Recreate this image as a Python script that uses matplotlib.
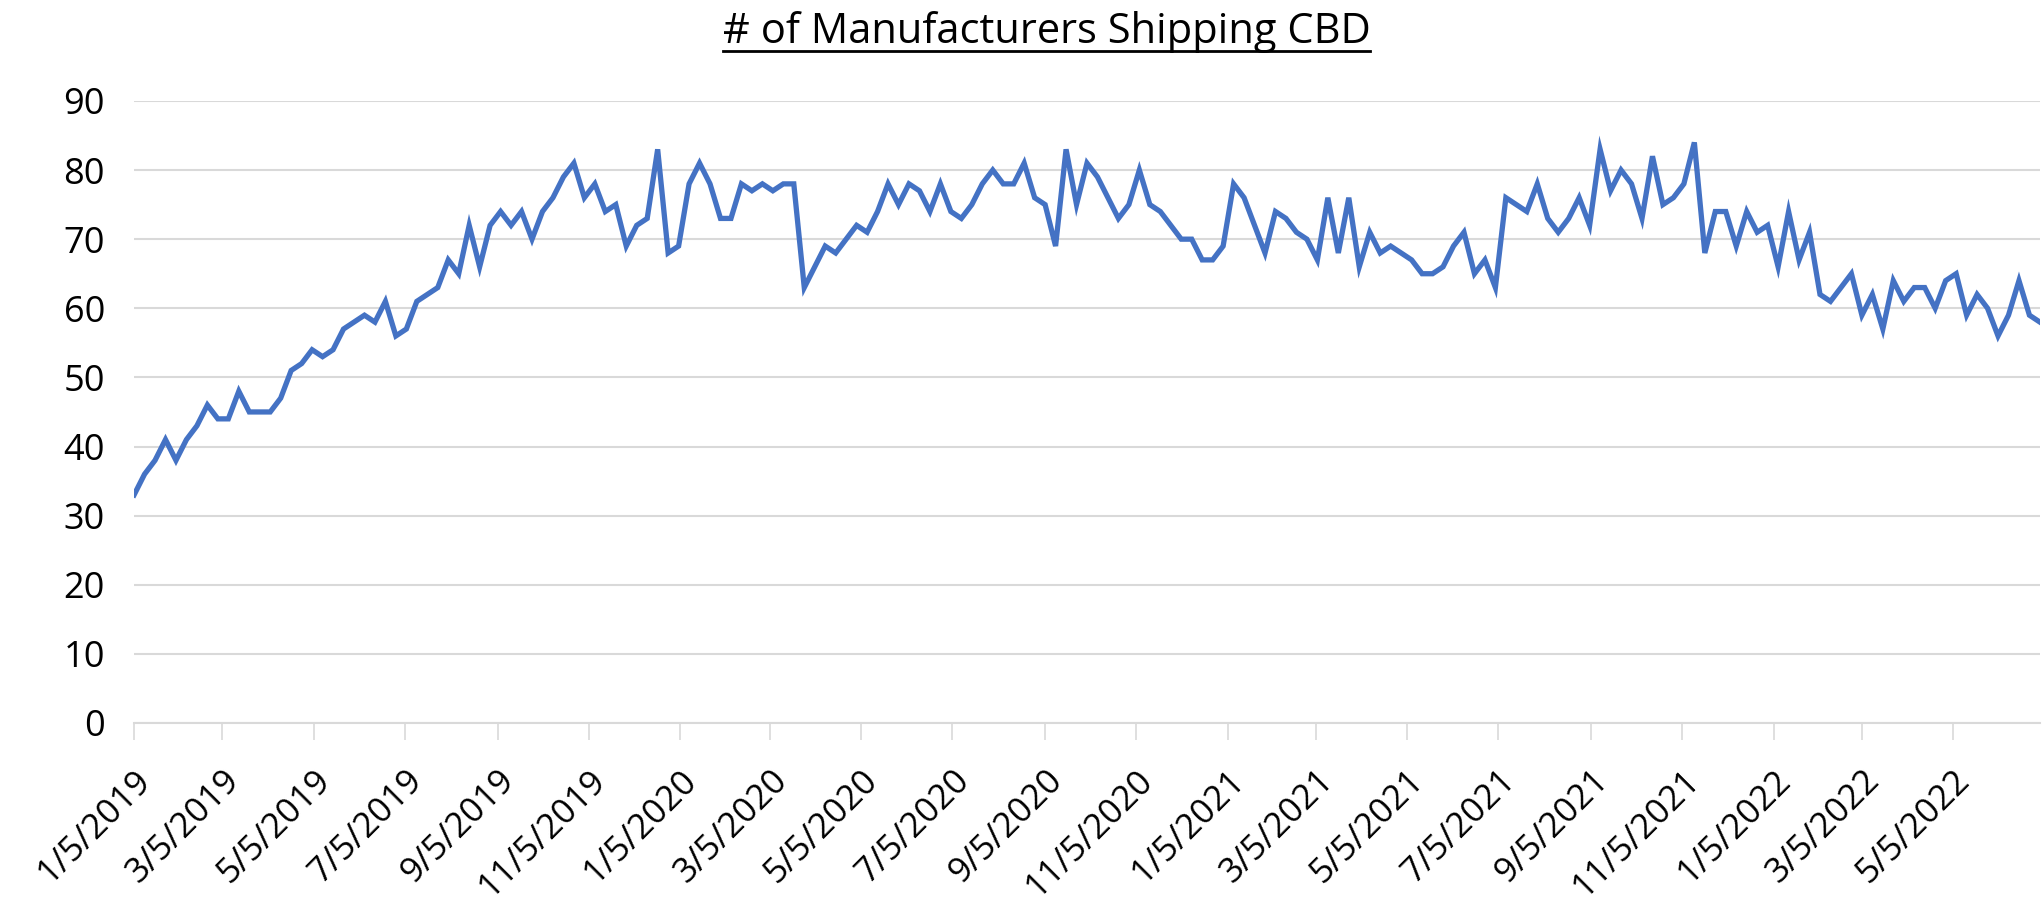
import pandas as pd
import matplotlib
matplotlib.use("Agg")
from matplotlib import pyplot as plt

# weekly count of manufacturers shipping CBD, first week 1/5/2019
manufacturers = [
    33, 36, 38, 41, 38, 41, 43, 46, 44, 44, 48, 45, 45, 45, 47, 51, 52, 54, 53, 54,
    57, 58, 59, 58, 61, 56, 57, 61, 62, 63, 67, 65, 72, 66, 72, 74, 72, 74, 70, 74,
    76, 79, 81, 76, 78, 74, 75, 69, 72, 73, 83, 68, 69, 78, 81, 78, 73, 73, 78, 77,
    78, 77, 78, 78, 63, 66, 69, 68, 70, 72, 71, 74, 78, 75, 78, 77, 74, 78, 74, 73,
    75, 78, 80, 78, 78, 81, 76, 75, 69, 83, 75, 81, 79, 76, 73, 75, 80, 75, 74, 72,
    70, 70, 67, 67, 69, 78, 76, 72, 68, 74, 73, 71, 70, 67, 76, 68, 76, 66, 71, 68,
    69, 68, 67, 65, 65, 66, 69, 71, 65, 67, 63, 76, 75, 74, 78, 73, 71, 73, 76, 72,
    83, 77, 80, 78, 73, 82, 75, 76, 78, 84, 68, 74, 74, 69, 74, 71, 72, 66, 74, 67,
    71, 62, 61, 63, 65, 59, 62, 57, 64, 61, 63, 63, 60, 64, 65, 59, 62, 60, 56, 59,
    64, 59, 58,
]
weeks = pd.date_range("2019-01-05", periods=len(manufacturers), freq="7D")

tick_labels = [
    "1/5/2019", "3/5/2019", "5/5/2019", "7/5/2019", "9/5/2019", "11/5/2019",
    "1/5/2020", "3/5/2020", "5/5/2020", "7/5/2020", "9/5/2020", "11/5/2020",
    "1/5/2021", "3/5/2021", "5/5/2021", "7/5/2021", "9/5/2021", "11/5/2021",
    "1/5/2022", "3/5/2022", "5/5/2022",
]
tick_dates = pd.to_datetime(tick_labels, format="%m/%d/%Y")

plt.rcParams["font.family"] = ["Open Sans", "DejaVu Sans"]

fig = plt.figure(figsize=(20.44, 9.11), dpi=100)
ax = fig.add_axes([0.0656, 0.2064, 0.9324, 0.6828])

ax.plot(weeks, manufacturers, color="#4472C4", linewidth=3.8, solid_joinstyle="miter")

ax.set_xlim(weeks[0], weeks[-1])
ax.set_ylim(0, 90)
ax.set_yticks(range(0, 91, 10))
ax.grid(axis="y", color="#d9d9d9", linewidth=1.5)
ax.set_axisbelow(True)

ax.set_xticks(tick_dates)
ax.set_xticklabels(tick_labels, rotation=45, ha="right", rotation_mode="anchor")
ax.tick_params(axis="x", length=12, width=1.2, color="#d9d9d9", labelsize=25, pad=17)
ax.tick_params(axis="y", length=0, labelsize=26, pad=21)

for side in ["top", "right", "left"]:
    ax.spines[side].set_visible(False)
ax.spines["bottom"].set_color("#d9d9d9")
ax.spines["bottom"].set_linewidth(1.5)

title = fig.text(0.512, 0.9528, "# of Manufacturers Shipping CBD", ha="center", va="baseline",
                 fontsize=30)
# underline the title
fig.canvas.draw()
bb = title.get_window_extent().transformed(fig.transFigure.inverted())
fig.add_artist(plt.Line2D([bb.x0, bb.x1], [0.944, 0.944],
                          transform=fig.transFigure, color="black", linewidth=2))

fig.savefig("out.png", dpi=100)
